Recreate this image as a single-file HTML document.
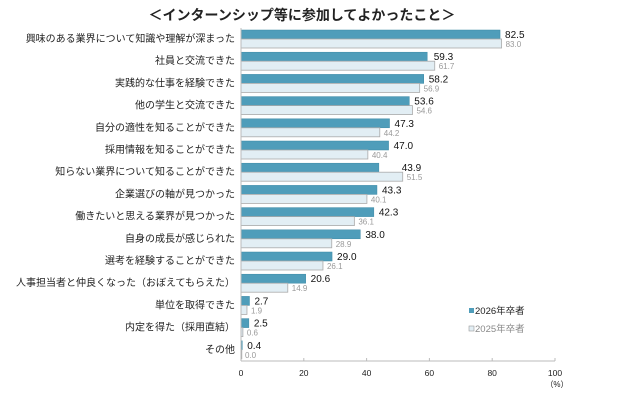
<!DOCTYPE html>
<html><head><meta charset="utf-8"><style>
body{margin:0;background:#fff;font-family:"Liberation Sans","Noto Sans CJK JP",sans-serif;}
svg text{font-family:"Liberation Sans","Noto Sans CJK JP",sans-serif;}
</style></head><body>
<svg id="c" width="617" height="404">
<text x="302" y="20" text-anchor="middle" font-size="14" font-weight="bold" fill="#222">＜インターンシップ等に参加してよかったこと＞</text>
</svg>
<script>
const categories=["興味のある業界について知識や理解が深まった","社員と交流できた","実践的な仕事を経験できた","他の学生と交流できた","自分の適性を知ることができた","採用情報を知ることができた","知らない業界について知ることができた","企業選びの軸が見つかった","働きたいと思える業界が見つかった","自身の成長が感じられた","選考を経験することができた","人事担当者と仲良くなった（おぼえてもらえた）","単位を取得できた","内定を得た（採用直結）","その他"];
const series2026=[82.5,59.3,58.2,53.6,47.3,47.0,43.9,43.3,42.3,38.0,29.0,20.6,2.7,2.5,0.4];
const series2025=[83.0,61.7,56.9,54.6,44.2,40.4,51.5,40.1,36.1,28.9,26.1,14.9,1.9,0.6,0.0];
const ticks=[0,20,40,60,80,100];
const svg=document.getElementById('c');const NS="http://www.w3.org/2000/svg";
const x0=241,x1=555,yTop=28,yBottom=361;
const xs=v=>x0+(x1-x0)*v/100;
const rowH=(yBottom-yTop)/categories.length;
function mk(t,a,txt){const e=document.createElementNS(NS,t);for(const k in a)e.setAttribute(k,a[k]);if(txt!=null)e.textContent=txt;svg.appendChild(e);return e;}
categories.forEach((c,i)=>{
 const y=yTop+i*rowH;
 let l=mk('text',{x:235,y:y+14,'text-anchor':'end','font-size':10,fill:'#222'},c);
 
 
 let b=mk('rect',{x:x0,y:y+2,width:Math.max(0.8,xs(series2026[i])-x0),height:9,fill:'#4f9dba',stroke:'#3d8aa6','stroke-width':0.5});
 
 
 let b2=mk('rect',{x:x0,y:y+11,width:Math.max(0.8,xs(series2025[i])-x0),height:9,fill:'#e2eef4',stroke:'#aaa','stroke-width':0.8});
 
 
 let v=mk('text',{x:Math.max(xs(series2026[i]),xs(series2025[i])-6)+5,y:y+10,'font-size':10,fill:'#111'},series2026[i].toFixed(1));
 
 
 let v2=mk('text',{x:xs(series2025[i])+4,y:y+19,'font-size':8,fill:'#999'},series2025[i].toFixed(1));
 
 
});
let ax=mk('line',{x1:x0,y1:yTop,x2:x0,y2:yBottom,stroke:'#bbb'});


let bx=mk('line',{x1:x0,y1:yBottom,x2:x1,y2:yBottom,stroke:'#bbb'});


ticks.forEach(t=>{
 mk('line',{x1:xs(t),y1:yBottom,x2:xs(t),y2:yBottom-3,stroke:'#bbb'});
 let tl=mk('text',{x:xs(t),y:376,'text-anchor':'middle','font-size':8.5,fill:'#222'},String(t));
 
 
});
let u=mk('text',{x:557,y:387,'text-anchor':'middle','font-size':8,fill:'#222'},'（%）');


let g1=mk('rect',{x:469,y:308,width:5,height:5,fill:'#4f9dba'});


let t1=mk('text',{x:475,y:314,'font-size':9.5,fill:'#222'},'2026年卒者');


let g2=mk('rect',{x:469,y:326,width:5,height:5,fill:'#e2eef4',stroke:'#999','stroke-width':0.6});


let t2=mk('text',{x:475,y:332,'font-size':9.5,fill:'#888'},'2025年卒者');


</script>
</body></html>
